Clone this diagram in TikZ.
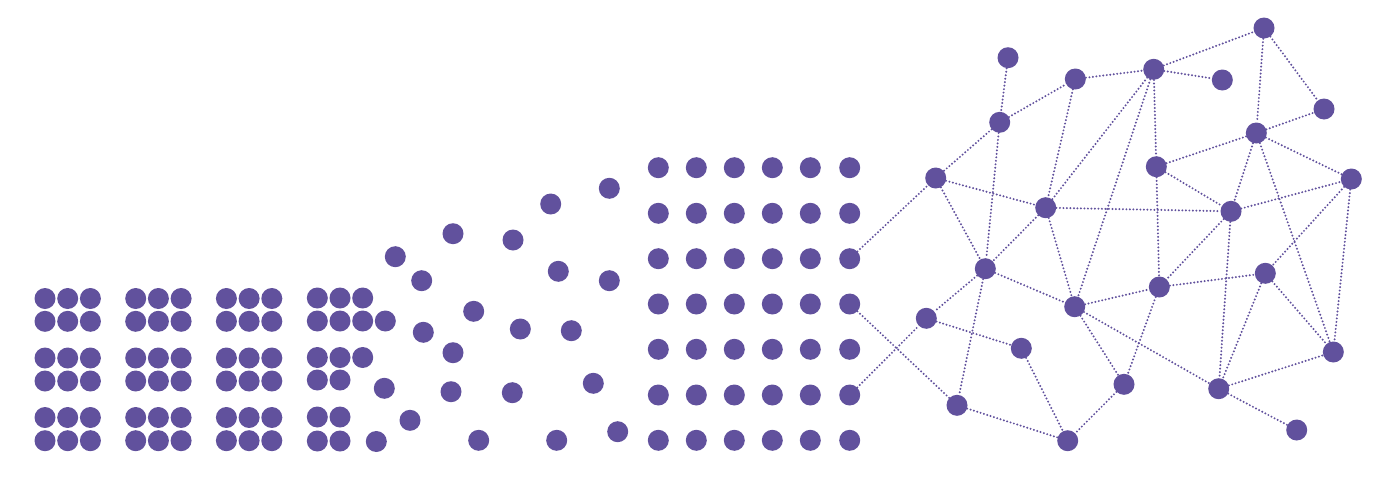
\documentclass[tikz,border=0pt]{standalone}
\definecolor{pp}{RGB}{97,81,157}
\tikzset{
  dot/.style={circle,fill=pp,inner sep=0pt,minimum size=21pt},
  link/.style={draw=pp,line width=2.2pt,line cap=round,dash pattern=on 0pt off 3.5pt}
}
\begin{document}
\begin{tikzpicture}[x=1pt,y=-1pt]
\useasboundingbox (0,0) rectangle (1400,477);
% full 3x2 blocks
\foreach \g in {0,1,2}
  \foreach \c in {0,1,2}
    \foreach \r/\y in {1/298.5,2/321.3,3/358,4/381,5/417.5,6/440.7}
      \node[dot] (b\g-\c-\r) at ({45+90.7*\g+22.7*\c},\y) {};
% fourth column of blocks
\foreach \n/\x/\y in {1/317.3/298,2/340/298,3/362.7/298,
                      4/317.3/321,5/340/321,6/362.7/321,7/385.3/321,
                      8/317.3/357.5,9/340/357.5,10/362.7/357.5,
                      11/317.3/380,12/340/380,13/384.3/388.3,
                      14/317.3/417,15/340/417,
                      16/317.3/441,17/340/441,18/376.3/441.5}
  \node[dot] (f\n) at (\x,\y) {};
% scattered dots
\foreach \n/\x/\y in {1/609.3/188.3,2/550.7/204,3/453/233.7,4/513/240,
                      5/395.3/256.7,6/421.7/280.7,7/558.3/271.3,8/609.3/280.7,
                      9/473.7/311.3,10/423.3/332.3,11/520.3/329,12/571.3/330.7,
                      13/453/352.7,14/451/391.7,15/512.3/392.7,16/593.3/383.3,
                      17/410/420.3,18/478.7/440.3,19/556.7/440.3,20/617.7/431.7}
  \node[dot] (s\n) at (\x,\y) {};
% grid
\foreach \i/\x in {1/658.3,2/696.3,3/734.3,4/772.3,5/810.3,6/849.7}
  \foreach \j/\y in {1/167.7,2/213.3,3/258.7,4/304,5/349.3,6/395,7/440.3}
    \node[dot] (g\i-\j) at (\x,\y) {};
% network nodes
\node[dot] (A) at (1008,57.7) {};
\node[dot] (B) at (1075.3,79) {};
\node[dot] (C) at (999.7,122.3) {};
\node[dot] (D) at (935.7,178) {};
\node[dot] (E) at (1045.7,207.7) {};
\node[dot] (F) at (1264,28) {};
\node[dot] (G) at (1153.7,69.3) {};
\node[dot] (H) at (1222.3,80) {};
\node[dot] (I) at (1324,109) {};
\node[dot] (J) at (1256.3,133) {};
\node[dot] (K) at (1156.3,166.7) {};
\node[dot] (L) at (1351.3,179) {};
\node[dot] (M) at (1231,211.3) {};
\node[dot] (N) at (985.3,268.7) {};
\node[dot] (O) at (926.3,318.3) {};
\node[dot] (P) at (1021.3,348.3) {};
\node[dot] (Q) at (1074.7,306.7) {};
\node[dot] (R) at (957,405.3) {};
\node[dot] (S) at (1067.7,440.7) {};
\node[dot] (T) at (1124,384.3) {};
\node[dot] (U) at (1159.3,287) {};
\node[dot] (V) at (1265.3,273.3) {};
\node[dot] (W) at (1333.3,352) {};
\node[dot] (X) at (1218.7,388.7) {};
\node[dot] (Y) at (1296.7,430) {};
% connectors
\foreach \a/\b in {g6-3/D, g6-4/R, g6-6/O,
                   A/C, C/B, C/D, C/N, B/G, B/E,
                   G/H, G/F, G/E, G/Q, G/K,
                   F/J, F/I, J/I, J/K, J/L, J/M, J/W,
                   K/M, K/U, E/M, M/L, M/U, M/X,
                   L/V, L/W, D/E, D/N, E/N, E/Q,
                   N/Q, N/O, N/R, O/P, R/S, P/S,
                   Q/T, T/S, Q/U, Q/X, U/V, U/T,
                   V/X, V/W, X/W, X/Y}
  \draw[link] (\a) -- (\b);
\end{tikzpicture}
\end{document}
